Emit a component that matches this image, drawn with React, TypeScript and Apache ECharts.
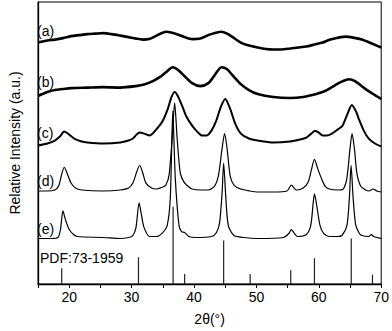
import React, { useEffect, useRef } from "react";
import * as echarts from "echarts";

// 2θ (deg) and relative intensity (a.u.) for each sample
const curveA: number[][] = [
  [15, 244], [16.5, 246], [17.7, 247], [19, 248.5], [20.3, 250.5], [21.6, 251.5], [22.9, 252.5], [24.2, 253], [25.5, 253.5],
  [26.8, 252.5], [28.2, 251], [29.5, 249.5], [30.7, 248], [31.8, 247], [32.8, 247.5], [34, 251], [35.5, 255], [36.5, 254],
  [37.5, 252], [38.5, 249.5], [39.7, 247.5], [41, 248], [42.5, 252], [43.5, 254], [44.4, 255], [45.3, 253], [46.3, 249],
  [47.5, 244], [48.8, 241], [50.2, 239], [51.5, 237.5], [52.7, 237], [54, 237], [55.4, 238], [56.7, 239], [58, 240],
  [59.3, 242], [60.6, 244], [61.6, 246.5], [62.5, 248], [63.5, 249.5], [64.3, 250], [65.5, 249], [66.9, 247], [68.5, 243], [70, 239],
];
const curveB: number[][] = [
  [15, 190], [16.5, 194], [17.7, 196], [19, 197], [20.3, 198], [22.9, 198.5], [25.5, 199], [28.2, 198.5], [30.7, 200],
  [32, 201.5], [33.4, 205], [34.5, 209], [35.5, 214], [36.6, 219], [37.5, 216], [38.5, 210], [39.7, 203], [41, 200],
  [42.3, 203], [43.3, 211], [44.4, 219], [45.3, 217], [46.3, 210], [47.5, 202], [48.8, 196], [50.2, 192], [52.7, 189],
  [55.4, 188], [57.5, 189], [59.6, 192], [61, 195], [62.1, 199], [63.5, 204], [64.8, 207], [65.8, 205], [67.5, 197],
  [68.7, 192], [70, 187],
];
const curveC: number[][] = [
  [15, 140], [16.5, 142], [17.7, 145], [18.5, 149], [19.2, 154], [20, 151], [20.8, 147], [22, 144], [22.9, 143], [25.5, 142],
  [28.2, 143], [29.5, 145], [30.2, 147], [30.8, 151], [31.3, 153], [32, 152], [32.9, 150], [34.2, 158], [35, 165], [35.8, 177],
  [36.4, 189], [36.9, 194], [37.4, 190], [38.1, 180], [38.8, 169], [39.7, 160], [40.5, 154], [41.3, 150], [42, 150],
  [42.8, 155], [43.5, 164], [44.3, 179], [45, 187], [45.8, 177], [46.6, 162], [47.5, 152], [48.8, 147], [50.2, 145],
  [52.7, 143], [55.4, 144], [57, 146], [58, 148], [58.8, 152], [59.4, 155], [60, 153], [60.6, 150], [61.3, 150], [62.1, 152],
  [63, 156], [63.8, 160], [64.6, 172], [65.3, 181], [66, 174], [66.4, 167], [67.2, 155], [68, 147], [69, 142], [70, 139],
];
const curveD: number[][] = [
  [15, 94], [16.5, 94], [17.7, 95], [18.3, 99], [18.8, 111], [19.2, 118], [19.6, 113], [20.3, 102], [21, 97], [22, 95],
  [25.5, 94], [28.2, 95], [29.5, 97], [30.2, 102], [30.8, 113], [31.3, 120], [31.8, 112], [32.3, 102], [33.2, 97], [33.9, 96],
  [35, 98], [35.5, 100], [36, 110], [36.5, 147], [36.9, 183], [37.3, 147], [37.8, 112], [38.4, 103], [39.2, 98], [39.7, 96],
  [41, 95], [42.3, 95], [43.3, 99], [43.9, 109], [44.5, 137], [44.9, 152], [45.3, 137], [45.8, 109], [46.4, 100], [47.5, 96],
  [49, 94], [50.2, 93], [52.7, 93], [54.9, 94], [55.6, 100], [56.4, 95], [57.5, 97], [58.3, 103], [58.8, 115], [59.3, 126],
  [59.8, 117], [60.4, 107], [61, 99], [61.7, 96], [63, 95], [63.9, 96], [64.5, 107], [65, 137], [65.33, 152], [65.7, 137],
  [66.1, 112], [66.7, 99], [67.5, 95], [68, 94], [68.7, 96], [69.3, 94], [70, 93],
];
const curveE: number[][] = [
  [15, 46], [17, 46], [18.2, 47], [18.6, 55], [19, 74], [19.4, 65], [20, 55], [20.7, 50], [21.3, 48], [25.5, 47], [28.2, 46],
  [29.5, 47], [30.2, 49], [30.7, 57], [31.2, 82], [31.6, 69], [32, 57], [32.9, 48], [34, 48], [35, 52], [35.7, 59], [36.2, 87],
  [36.6, 175], [37, 107], [37.6, 59], [38, 53], [38.5, 52], [39.2, 48], [40.2, 47], [42.8, 48], [43.6, 52], [44.1, 62],
  [44.5, 92], [44.75, 122], [45.1, 87], [45.5, 59], [46.4, 49], [48, 47], [50.2, 46], [54.3, 47], [55.2, 51], [55.6, 55],
  [56.1, 51], [56.6, 48], [58, 50], [58.7, 59], [59.1, 82], [59.3, 91], [59.6, 82], [60.2, 59], [60.8, 51], [61.7, 48],
  [63, 48], [63.7, 49], [64.5, 59], [64.9, 87], [65.17, 120], [65.5, 87], [65.9, 60], [66.5, 51], [66.9, 49], [68, 48],
  [68.4, 50], [68.8, 48], [70, 46],
];
// Reference pattern PDF:73-1959 (2θ, relative height)
const pdfLines: number[][] = [
  [18.8, 16], [31.1, 27], [36.65, 78], [38.5, 10], [44.75, 44], [49.0, 10], [55.5, 14], [59.3, 26], [65.2, 46], [68.6, 9.5],
];
const sampleLabels = ["(a)", "(b)", "(c)", "(d)", "(e)"];
const pdfLabel = "PDF:73-1959";
const xTicks = [20, 30, 40, 50, 60, 70];

const FONT = "'Liberation Sans', Arial, sans-serif";

export default function App() {
  const ref = useRef<HTMLDivElement>(null);
  useEffect(() => {
    if (!ref.current) return;
    document.body.style.margin = "0";
    const chart = echarts.init(ref.current, undefined, { renderer: "svg" });
    const curves = [curveA, curveB, curveC, curveD, curveE];
    const widths = [2.6, 2.6, 2, 1.2, 1.2];
    const labelY = [32, 83, 134, 182, 230];
    chart.setOption({
      animation: false,
      backgroundColor: "#fff",
      grid: { left: 33, right: 9, top: 2, bottom: 44, show: true, borderColor: "#000", borderWidth: 1 },
      xAxis: {
        type: "value",
        min: 15,
        max: 70,
        interval: 5,
        name: "2θ(°)",
        nameLocation: "middle",
        nameGap: 28,
        nameTextStyle: { fontFamily: FONT, fontSize: 14, color: "#000" },
        axisLine: { show: true, lineStyle: { color: "#000", width: 1.3 } },
        axisTick: { show: true, inside: false, length: 4, lineStyle: { color: "#000", width: 1 } },
        axisLabel: {
          fontFamily: FONT,
          fontSize: 14,
          color: "#000",
          margin: 6,
          formatter: (v: number) => (xTicks.includes(v) ? String(v) : ""),
        },
        splitLine: { show: false },
      },
      yAxis: {
        type: "value",
        min: 0,
        max: 285,
        name: "Relative Intensity (a.u.)",
        nameLocation: "middle",
        nameGap: 16,
        nameTextStyle: { fontFamily: FONT, fontSize: 14, color: "#000" },
        axisLine: { show: true, lineStyle: { color: "#000", width: 1.3 } },
        axisTick: { show: false },
        axisLabel: { show: false },
        splitLine: { show: false },
      },
      graphic: [
        ...sampleLabels.map((t, i) => ({
          type: "text",
          left: 37,
          top: labelY[i] - 8,
          style: { text: t, font: `14px ${FONT}`, fill: "#000" },
        })),
        {
          type: "text",
          left: 40,
          top: 251,
          style: { text: pdfLabel, font: `14px ${FONT}`, fill: "#000" },
        },
      ],
      series: [
        ...curves.map((d, i) => ({
          type: "line",
          data: d,
          showSymbol: false,
          smooth: 0.25,
          lineStyle: { color: "#000", width: widths[i] },
          z: 3,
        })),
        {
          type: "bar",
          data: pdfLines,
          barWidth: 1.2,
          itemStyle: { color: "#222" },
          z: 2,
        },
      ],
    });
    return () => chart.dispose();
  }, []);
  return <div ref={ref} style={{ position: "absolute", left: 0, top: 0, width: 392, height: 331 }} />;
}
